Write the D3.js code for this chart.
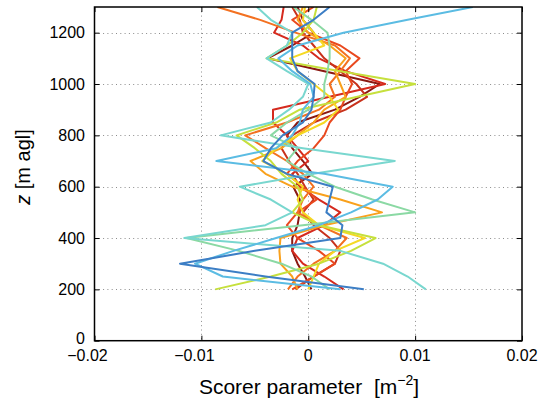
<!DOCTYPE html>
<html>
<head>
<meta charset="utf-8">
<script src="https://cdn.jsdelivr.net/npm/d3@7"></script>
<style>
  html, body { margin: 0; padding: 0; background: #fff; }
  svg { display: block; font-family: "Liberation Sans", Arial, Helvetica, sans-serif; }
</style>
</head>
<body>
<svg id="chart" width="543" height="401"></svg>
<script>
// Heights of the profile levels [m agl]
const heights = [200, 250, 300, 350, 400, 450, 500, 550, 600, 650, 700, 750,
                 800, 850, 900, 950, 1000, 1050, 1100, 1150, 1200, 1250, 1300];

// Scorer parameter profiles, in units of 10^-3 m^-2, one value per height
const maroon     = [0.3, -0.3, -1.0, -1.5, -1.5, -1.0, -0.8, -0.8, -1.4, 0.4, -0.5, -1.5,
                    -2.0, -1.0, 2.5, 4.8, 6.7, 1.5, -3.8, -1.5, 0.5, -0.5, -1.0];
const red        = [3.3, 1.5, -0.5, -1.5, -1.0, 1.5, 3.0, 1.0, -0.8, -1.5, 0.0, -1.0,
                    -2.0, -3.3, -3.3, 2.0, 7.2, 3.5, 1.0, -0.5, -3.2, -2.5, -2.3];
const crimson    = [-1.2, 0.5, 2.5, 3.0, 2.0, 0.5, -0.5, 0.5, -0.3, -1.0, -1.8, -2.5,
                    -1.5, 0.5, 3.5, 5.5, 4.5, 3.0, 1.5, 0.5, -0.5, -0.8, -1.5];
const redOrange  = [-1.5, 0.5, 2.5, 1.0, -1.0, -2.0, -1.0, 0.8, -0.5, -2.0, -1.0, 0.5,
                    1.5, 2.0, 3.0, 3.5, 4.1, 3.5, 4.8, 3.0, 0.0, -1.5, 0.5];
const orange     = [-1.9, -1.0, 0.5, 2.5, 3.6, 1.0, -1.0, -0.5, 0.5, -0.5, -2.0, -4.0,
                    -5.9, -2.0, 1.0, 2.5, 2.0, 3.0, 3.9, 2.5, -1.2, -4.5, -8.5];
const amber      = [-1.0, -1.5, -2.6, -2.7, -2.6, 1.5, 6.9, 3.0, -1.5, -4.0, -5.4, -2.5,
                    -1.0, 0.5, 1.5, 3.5, 3.0, 2.5, 3.5, 2.0, 0.0, -1.0, -0.5];
const yellow     = [0.0, 0.5, 1.0, 2.5, 5.3, 1.0, -0.5, -1.0, -0.5, -2.0, -4.3, -3.0,
                    -1.0, 1.5, 2.8, 2.0, 0.5, -1.0, -1.7, 1.5, 0.5, -0.5, -0.3];
const yellowGreen = [-8.7, -3.5, 1.0, 4.0, 6.3, 1.0, -1.5, -0.5, -1.0, -2.5, -3.5, -5.0,
                    -6.7, -3.0, -0.8, 4.6, 10.0, 3.0, -3.9, -2.0, -0.5, 0.5, 0.8];
const mint       = [2.0, 0.3, -2.5, -6.5, -11.4, -0.5, 10.0, 6.0, 2.5, 0.0, -2.0, -1.0,
                    -3.5, -2.0, 0.0, 1.5, 1.5, 1.8, 2.0, 2.0, 1.8, 0.3, -1.4];
const aqua       = [11.0, 9.3, 7.0, 3.0, -11.6, -4.0, -1.5, -3.5, -6.4, 0.5, 8.1, -0.5,
                    -8.2, -3.5, -1.8, -0.5, 0.0, -2.0, -3.9, -2.0, -1.5, -3.5, -4.8];
const lightBlue  = [3.0, -8.0, -10.6, -7.0, -3.0, 1.0, 4.0, 6.5, 7.9, 1.5, -8.6, -3.0,
                    -1.5, -0.8, -0.5, 0.5, 0.2, -1.5, -2.8, -1.0, 3.3, 9.3, 15.4];
const steelBlue  = [5.2, -4.0, -12.0, -5.0, 3.0, 3.2, 1.7, 2.0, 2.3, -2.0, -4.2, -3.5,
                    -2.4, -0.5, 0.3, 0.5, 0.6, -1.0, -1.5, -1.5, -1.5, 0.5, 2.0];

const seriesValues = [maroon, red, crimson, redOrange, orange, amber, yellow,
                      yellowGreen, mint, aqua, lightBlue, steelBlue];
const seriesColors = ["#8a1812", "#d52a1e", "#c8321c", "#e9491f", "#f37121", "#f9a11c",
                      "#f5d923", "#c6e03d", "#8bd9a4", "#79d7cf", "#5bbce3", "#3c7ec5"];

// Axis ticks and their labels
const xTicks = [-20, -10, 0, 10, 20];
const xTickLabels = ["\u22120.02", "\u22120.01", "0", "0.01", "0.02"];
const yTicks = [0, 200, 400, 600, 800, 1000, 1200];
const yTickLabels = ["0", "200", "400", "600", "800", "1000", "1200"];

const svg = d3.select("#chart");
const plotLeft = 94.5, plotRight = 522, plotTop = 7, plotBottom = 340.7;

const x = d3.scaleLinear().domain([-20, 20]).range([plotLeft, plotRight]);
const y = d3.scaleLinear().domain([0, 1300]).range([plotBottom, plotTop]);

// Dotted grid at the interior ticks
const grid = svg.append("g").attr("stroke", "#8c8c8c").attr("stroke-width", 1)
  .attr("stroke-dasharray", "1,3.3");
grid.selectAll("line.gx").data(xTicks.filter(t => t > -20 && t < 20)).join("line")
  .attr("class", "gx")
  .attr("x1", d => Math.round(x(d)) + 0.5).attr("x2", d => Math.round(x(d)) + 0.5)
  .attr("y1", plotTop).attr("y2", plotBottom);
grid.selectAll("line.gy").data(yTicks.filter(t => t > 0)).join("line")
  .attr("class", "gy")
  .attr("y1", d => Math.round(y(d)) + 0.5).attr("y2", d => Math.round(y(d)) + 0.5)
  .attr("x1", plotLeft).attr("x2", plotRight);

// Profiles
svg.append("clipPath").attr("id", "plotClip").append("rect")
  .attr("x", plotLeft).attr("y", plotTop)
  .attr("width", plotRight - plotLeft).attr("height", plotBottom - plotTop);
const line = d3.line().x(d => x(d[1])).y(d => y(d[0]));
svg.append("g").attr("clip-path", "url(#plotClip)")
  .selectAll("path").data(seriesValues).join("path")
  .attr("d", vals => line(heights.map((h, i) => [h, vals[i]])))
  .attr("fill", "none")
  .attr("stroke", (d, i) => seriesColors[i])
  .attr("stroke-width", 2)
  .attr("stroke-linejoin", "round");

// Axes box with inward ticks on all sides
const axisG = svg.append("g");
const tickLen = 5;
const axB = d3.axisBottom(x).tickValues(xTicks).tickSize(-tickLen).tickFormat("");
const axT = d3.axisTop(x).tickValues(xTicks).tickSize(-tickLen).tickFormat("");
const axL = d3.axisLeft(y).tickValues(yTicks).tickSize(-tickLen).tickFormat("");
const axR = d3.axisRight(y).tickValues(yTicks).tickSize(-tickLen).tickFormat("");
axisG.append("g").attr("transform", `translate(0,${plotBottom})`).call(axB);
axisG.append("g").attr("transform", `translate(0,${plotTop})`).call(axT);
axisG.append("g").attr("transform", `translate(${plotLeft},0)`).call(axL);
axisG.append("g").attr("transform", `translate(${plotRight},0)`).call(axR);
axisG.selectAll(".domain").remove();
axisG.selectAll(".tick line").attr("stroke", "#000").attr("stroke-width", 1);
svg.append("rect").attr("x", plotLeft).attr("y", plotTop)
  .attr("width", plotRight - plotLeft).attr("height", plotBottom - plotTop)
  .attr("fill", "none").attr("stroke", "#000").attr("stroke-width", 1.5);

// Tick labels
svg.append("g").selectAll("text").data(xTicks).join("text")
  .attr("x", (d, i) => x(d) - (xTickLabels[i].startsWith("\u2212") ? 7 : 0))
  .attr("y", 361)
  .attr("text-anchor", "middle")
  .attr("font-size", 16)
  .text((d, i) => xTickLabels[i]);
svg.append("g").selectAll("text").data(yTicks).join("text")
  .attr("x", 85)
  .attr("y", d => y(d) + 5.5 - (d === 0 ? 2 : 0))
  .attr("text-anchor", "end")
  .attr("font-size", 16)
  .text((d, i) => yTickLabels[i]);

// Axis titles
const xt = svg.append("text").attr("x", 309).attr("y", 394)
  .attr("text-anchor", "middle").attr("font-size", 21);
xt.append("tspan").text("Scorer parameter \u00a0[m");
xt.append("tspan").attr("dy", -9).attr("font-size", 14).text("\u22122");
xt.append("tspan").attr("dy", 9).text("]");

const yt = svg.append("text")
  .attr("transform", "translate(30,167) rotate(-90)")
  .attr("text-anchor", "middle").attr("font-size", 20);
yt.append("tspan").attr("font-style", "italic").text("z");
yt.append("tspan").text(" [m agl]");
</script>
</body>
</html>
